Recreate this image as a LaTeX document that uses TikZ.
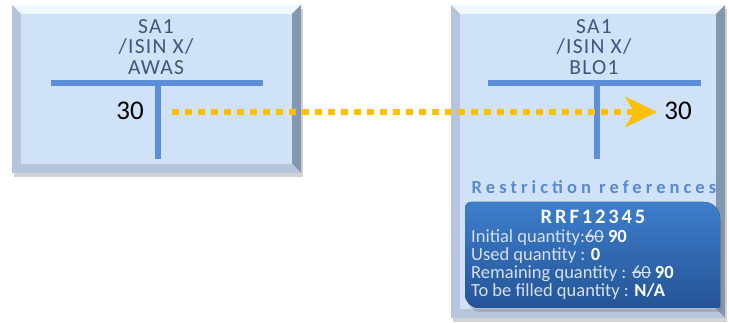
\documentclass[tikz,border=0pt]{standalone}
\usepackage{fontspec}
\setmainfont{Carlito}
\newfontfamily\wideface[LetterSpace=6]{Carlito}
\newfontfamily\midface[LetterSpace=14]{Carlito}
\newfontfamily\widerface[LetterSpace=22]{Carlito}
\usetikzlibrary{arrows.meta,shadows,positioning}
\definecolor{boxfill}{RGB}{207,226,248}
\definecolor{bevlight}{RGB}{242,248,255}
\definecolor{bevside}{RGB}{180,197,220}
\definecolor{bevdark}{RGB}{132,150,176}
\definecolor{titletext}{RGB}{62,88,124}
\definecolor{barblue}{RGB}{90,142,214}
\definecolor{reftext}{RGB}{88,138,208}
\definecolor{rrftop}{RGB}{62,126,204}
\definecolor{rrfbot}{RGB}{36,84,150}
\definecolor{qtytext}{RGB}{214,224,238}
\definecolor{flow}{RGB}{255,192,0}
\tikzstyle{account}=[align=center,text=titletext,inner sep=0pt,
font=\wideface\fontsize{21.5}{20.5}\selectfont]
\tikzstyle{qty}=[inner sep=0pt,font=\fontsize{27}{27}\selectfont]
\tikzstyle{tline}=[draw=barblue,line width=6pt]
\tikzstyle{flowline}=[draw=flow,line width=5.5pt,dash pattern=on 7pt off 6pt,
-{Stealth[length=32pt,width=31pt,inset=9pt,line width=0pt]}]
\tikzstyle{shade}=[drop shadow={shadow xshift=2pt,shadow yshift=-4pt,opacity=.35}]
% struck-out value
\newcommand{\struck}[1]{\setbox0\hbox{#1}%
  \rlap{\raisebox{0.3em}{\rule{\wd0}{0.8pt}}}\box0\relax}
% bevelled account box: x1 y1 x2 y2
\newcommand{\bevelbox}[4]{%
  \fill[boxfill,shade] (#1,#2) rectangle (#3,#4);
  \fill[bevlight] (#1,#2) -- (#3,#2) -- (#3-9,#2+9) -- (#1+9,#2+9) -- cycle;
  \fill[bevside] (#1,#2) -- (#1+9,#2+9) -- (#1+9,#4-9) -- (#1,#4) -- cycle;
  \fill[bevdark] (#3,#2) -- (#3,#4) -- (#3-9,#4-9) -- (#3-9,#2+9) -- cycle;
  \fill[bevside] (#1,#4) -- (#3,#4) -- (#3-9,#4-9) -- (#1+9,#4-9) -- cycle;
  \fill[boxfill] (#1+9,#2+9) rectangle (#3-9,#4-9);
}

\begin{document}
\begin{tikzpicture}[x=1pt,y=-1pt]
  \useasboundingbox (0,0) rectangle (729,323);
  % the two safekeeping accounts
  \bevelbox{12}{5}{301}{173}
  \bevelbox{451}{5}{725}{318}

  % first account: AWAS
  \node[account] (awas) at (156,47) {SA1\\/ISIN X/\\AWAS};
  \draw[tline] (51,83) -- (263,83);
  \draw[tline] (158,83) -- (158,159);
  \node[qty] (lq) at (130,111) {30};

  % second account: BLO1
  \node[account] (blo) at (594,47) {SA1\\/ISIN X/\\BLO1};
  \draw[tline] (488,83) -- (701,83);
  \draw[tline] (597,83) -- (597,159);
  \node[qty] (rq) at (678,111) {30};

  % the transfer
  \coordinate (flowstart) at (172,112);
  \draw[flowline,shorten >=7pt] (flowstart) -- (flowstart -| rq.west);

  % restriction references
  \node[text=reftext,inner sep=0pt,
    font=\widerface\bfseries\fontsize{18.5}{18.5}\selectfont] (refs) at (594,187)
    {Restriction references};
  \fill[top color=rrftop,bottom color=rrfbot,shade]
    (465,260) [rounded corners=6pt] -- (465,202)
    [rounded corners=16pt] -- (720,202)
    [rounded corners=2pt] -- (720,308)
    [rounded corners=14pt] -- (465,308) -- cycle;
  \node[text=white,inner sep=0pt,
    font=\midface\bfseries\fontsize{20.5}{20.5}\selectfont] (rrf) at (593,217)
    {RRF12345};
  \node[anchor=north west,align=left,text=qtytext,inner sep=0pt,
    font=\fontsize{18.5}{18}\selectfont] (qtys) at (471,229)
    {Initial quantity:\struck{60} \textcolor{white}{\bfseries 90}\\
     Used quantity : \textcolor{white}{\bfseries 0}\\
     Remaining quantity : \struck{60} \textcolor{white}{\bfseries 90}\\
     To be filled quantity : \textcolor{white}{\bfseries N/A}};
\end{tikzpicture}
\end{document}
